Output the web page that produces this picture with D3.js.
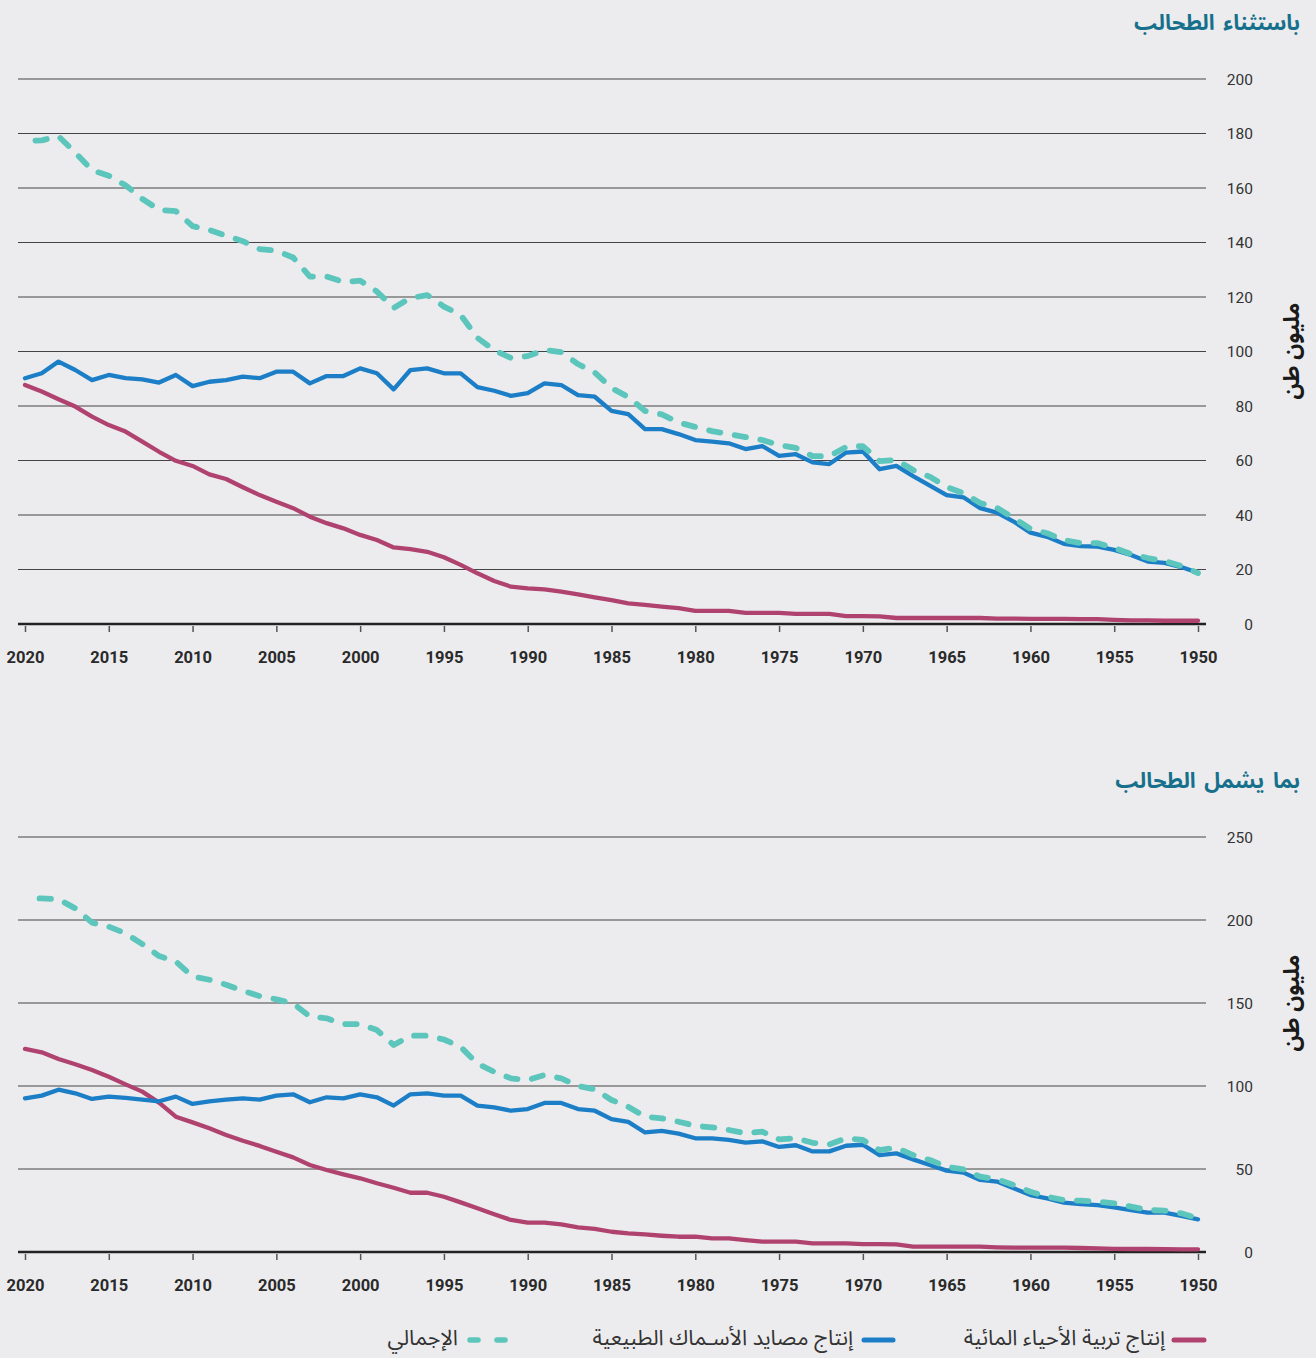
<!DOCTYPE html>
<html><head><meta charset="utf-8">
<script src="https://cdn.jsdelivr.net/npm/d3@7/dist/d3.min.js"></script>
<style>
html,body{margin:0;padding:0;background:#ececee;}
svg{display:block;}
</style></head><body>
<svg id="c" width="1316" height="1358"></svg>
<script>
// ---------- DATA ----------
const years = [2020,2019,2018,2017,2016,2015,2014,2013,2012,2011,
  2010,2009,2008,2007,2006,2005,2004,2003,2002,2001,
  2000,1999,1998,1997,1996,1995,1994,1993,1992,1991,
  1990,1989,1988,1987,1986,1985,1984,1983,1982,1981,
  1980,1979,1978,1977,1976,1975,1974,1973,1972,1971,
  1970,1969,1968,1967,1966,1965,1964,1963,1962,1961,
  1960,1959,1958,1957,1956,1955,1954,1953,1952,1951,1950];

// Excluding algae (million tonnes)
const totalExAlgae = [177.2,177.5,179,173,166.5,164.5,161,156,152,151.5,
  146,144.6,142.5,140.5,137.6,137,134.5,127.5,127.5,125.5,
  126,122,116,119.6,120.7,116.5,113.4,105,100.5,97.6,
  98.3,100.5,99.8,95.4,92.3,86.6,83.3,78.2,76.9,74,
  72.3,70.8,69.7,68.6,67.5,65.7,64.6,61.6,61.6,65,
  65.3,59.8,60.2,56.5,54,50.3,48,44.4,42.6,38.9,
  34.9,33.3,30.8,29.7,29.7,27.9,25.7,24.2,23.1,21.3,18.7];
const wildExAlgae = [90.2,92,96.3,93.2,89.5,91.4,90.2,89.8,88.6,91.4,
  87.3,88.9,89.5,90.8,90.2,92.6,92.6,88.3,91,91,
  93.8,92,86.1,93.2,93.8,92,92,86.9,85.6,83.7,
  84.7,88.3,87.7,84,83.4,78.2,77,71.5,71.5,69.7,
  67.5,66.9,66.3,64.2,65.3,61.7,62.3,59.3,58.7,62.9,
  63.3,56.8,58,54.3,50.8,47.3,46.5,42.5,40.9,37.6,
  33.5,32,29.4,28.6,28.4,27.2,25.3,22.9,22.4,20.9,18.8];
const aquaExAlgae = [87.7,85.3,82.5,79.8,76.1,73,70.6,66.9,63.2,59.9,
  58,54.9,53.2,50.2,47.3,44.9,42.5,39.4,37,35.1,
  32.7,30.8,28.1,27.5,26.5,24.5,21.7,18.6,15.8,13.7,
  13.1,12.7,11.9,10.9,9.8,8.8,7.6,7,6.4,5.8,
  4.8,4.8,4.8,4.1,4.1,4.1,3.7,3.7,3.7,2.9,
  2.9,2.8,2.2,2.2,2.2,2.2,2.2,2.2,2,2,
  1.9,1.9,1.9,1.8,1.8,1.5,1.3,1.3,1.2,1.2,1.2];

// Including algae (million tonnes)
const totalInAlgae = [213,213,212.5,207,198.4,196,192,185.5,178.3,175,
  166,164,161,157.4,154.2,152.2,149.8,141.8,140.8,137.3,
  137.3,133.7,124.7,130.3,130.3,128,123.5,113.5,108.5,104.6,
  103.6,106.6,104.6,100,98,91.6,87.5,81.5,80.5,78.5,
  76,75.1,73.5,71.5,72.5,67.9,68.5,65.8,64.8,68.5,
  67.5,61.4,62.8,58.4,55.4,51.4,49.8,45.4,43.8,40.4,
  36.3,33.3,31.3,30.9,30.3,29.3,27.3,25.3,24.9,23.3,20.3];
const wildInAlgae = [92.6,94.2,97.8,95.6,92.2,93.6,92.8,91.8,90.8,93.6,
  89.2,90.8,91.8,92.6,91.8,94.2,95,90.2,93.2,92.6,
  95,93.2,88.2,95,95.6,94.2,94.2,88.2,87.1,85.1,
  86.1,89.8,89.8,86.1,85.1,80,78.4,72,73,71.3,
  68.5,68.5,67.5,65.9,66.7,63.3,64.3,60.6,60.6,64,
  64.6,58.4,59.4,55.8,52.4,49,47.8,43.4,42.4,38.4,
  34.3,32.3,29.7,28.9,28.3,26.9,25.3,23.7,23.7,21.7,19.7];
const aquaInAlgae = [122.3,120.3,116.3,113.1,109.6,105.6,101,96.6,90,81.5,
  78.1,74.5,70.5,67,63.9,60.4,57,52.4,49.4,46.8,
  44.4,41.4,38.7,35.7,35.7,33.3,29.9,26.3,22.7,19.3,
  17.7,17.7,16.7,14.9,13.9,12.2,11.2,10.6,9.8,9.2,
  9.2,8.2,8.2,7.2,6.2,6.2,6.2,5.2,5.2,5.2,
  4.8,4.8,4.6,3.2,3.2,3.2,3.2,3.2,2.8,2.6,
  2.6,2.6,2.6,2.4,2.2,1.9,1.8,1.8,1.7,1.6,1.6];

const xTickYears = [2020,2015,2010,2005,2000,1995,1990,1985,1980,1975,1970,1965,1960,1955,1950];
const yTicksTop = [0,20,40,60,80,100,120,140,160,180,200];
const yTicksBottom = [0,50,100,150,200,250];
const panelTitles = ["باستثناء الطحالب","بما يشمل الطحالب"];
const yAxisTitle = "مليون طن";
const legendLabels = ["إنتاج تربية الأحياء المائية","إنتاج مصايد الأسـماك الطبيعية","الإجمالي"];

// ---------- STYLE ----------
const C = {aqua:"#b0426f", wild:"#1b7ec6", total:"#5cc6bc", title:"#16708b", grid:"#444", text:"#333"};
const latin = "Roboto, 'Liberation Sans', sans-serif";
const arab = "'Noto Sans Arabic','DejaVu Sans',sans-serif";

const svg = d3.select("#c");
const x = d3.scaleLinear().domain([2020,1950]).range([25,1198]);
const gridX0 = 18, gridX1 = 1206;

const panels = [
  {title:panelTitles[0], titleY:22, ticks:yTicksTop, domain:[0,200], range:[624,79], yTitleY:351,
   total:totalExAlgae, wild:wildExAlgae, aqua:aquaExAlgae, dashOff:15.5},
  {title:panelTitles[1], titleY:780, ticks:yTicksBottom, domain:[0,250], range:[1252,837], yTitleY:1003,
   total:totalInAlgae, wild:wildInAlgae, aqua:aquaInAlgae, dashOff:11.5}
];

panels.forEach(p => {
  const y = d3.scaleLinear().domain(p.domain).range(p.range);
  const g = svg.append("g");
  const base = y(0);

  // title
  g.append("text").attr("x",1300).attr("y",p.titleY).attr("dy","0.35em")
    .attr("text-anchor","end").attr("font-family",arab).attr("font-weight","bold")
    .attr("font-size",21.5).attr("fill",C.title).attr("word-spacing",3).text(p.title);

  // gridlines
  g.selectAll("line.grid").data(p.ticks.filter(t=>t>0)).join("line")
    .attr("x1",gridX0).attr("x2",gridX1).attr("y1",d=>y(d)).attr("y2",d=>y(d))
    .attr("stroke",C.grid).attr("stroke-width",1);

  // y labels
  g.selectAll("text.yl").data(p.ticks).join("text")
    .attr("x",1253).attr("y",d=>y(d)).attr("dy","0.36em").attr("text-anchor","end")
    .attr("font-family",latin).attr("font-size",15.5).attr("fill",C.text).text(d=>d);

  // y title
  g.append("text").attr("transform",`translate(1291,${p.yTitleY}) rotate(-90)`)
    .attr("dy","0.35em").attr("text-anchor","middle").attr("font-family",arab)
    .attr("font-weight","bold").attr("font-size",22).attr("fill","#1a1a1a").text(yAxisTitle);

  // x axis
  const xa = d3.axisBottom(x).tickValues(xTickYears).tickSize(8).tickPadding(19).tickFormat(d3.format("d"));
  const ax = g.append("g").attr("transform",`translate(0,${base})`).call(xa);
  ax.select(".domain").remove();
  ax.selectAll(".tick line").attr("stroke","#555").attr("stroke-width",1.5).attr("y1",2);
  ax.selectAll(".tick text").attr("font-family",latin).attr("font-weight","bold")
    .attr("font-size",16.5).attr("fill","#2a2a2a");
  g.append("line").attr("x1",gridX0).attr("x2",gridX1).attr("y1",base).attr("y2",base)
    .attr("stroke","#222").attr("stroke-width",2.5);

  const line = d3.line().x((d,i)=>x(years[i])).y(d=>y(d));
  g.append("path").datum(p.aqua).attr("d",line).attr("fill","none")
    .attr("stroke",C.aqua).attr("stroke-width",4.3).attr("stroke-linejoin","round").attr("stroke-linecap","round");
  g.append("path").datum(p.wild).attr("d",line).attr("fill","none")
    .attr("stroke",C.wild).attr("stroke-width",4.3).attr("stroke-linejoin","round").attr("stroke-linecap","round");
  g.append("path").datum(p.total).attr("d",line).attr("fill","none")
    .attr("stroke",C.total).attr("stroke-width",5.8).attr("stroke-linecap","round")
    .attr("stroke-linejoin","round").attr("stroke-dasharray","11.5,14.5").attr("stroke-dashoffset",p.dashOff);
});

// legend
const leg = [
  {label:legendLabels[0], color:C.aqua, x1:1174, x2:1204, textX:1165, dash:null, w:5},
  {label:legendLabels[1], color:C.wild, x1:864, x2:893, textX:853, dash:null, w:5},
  {label:legendLabels[2], color:C.total, x1:470, x2:505, textX:458, dash:"8,19", w:5.5}
];
const lg = svg.append("g");
leg.forEach(l => {
  lg.append("line").attr("x1",l.x1).attr("x2",l.x2).attr("y1",1340).attr("y2",1340)
    .attr("stroke",l.color).attr("stroke-width",l.w).attr("stroke-linecap","round")
    .attr("stroke-dasharray",l.dash);
  lg.append("text").attr("x",l.textX).attr("y",1337).attr("dy","0.35em").attr("text-anchor","end")
    .attr("font-family",arab).attr("font-size",21.5).attr("fill",C.text).text(l.label);
});
</script>
</body></html>
